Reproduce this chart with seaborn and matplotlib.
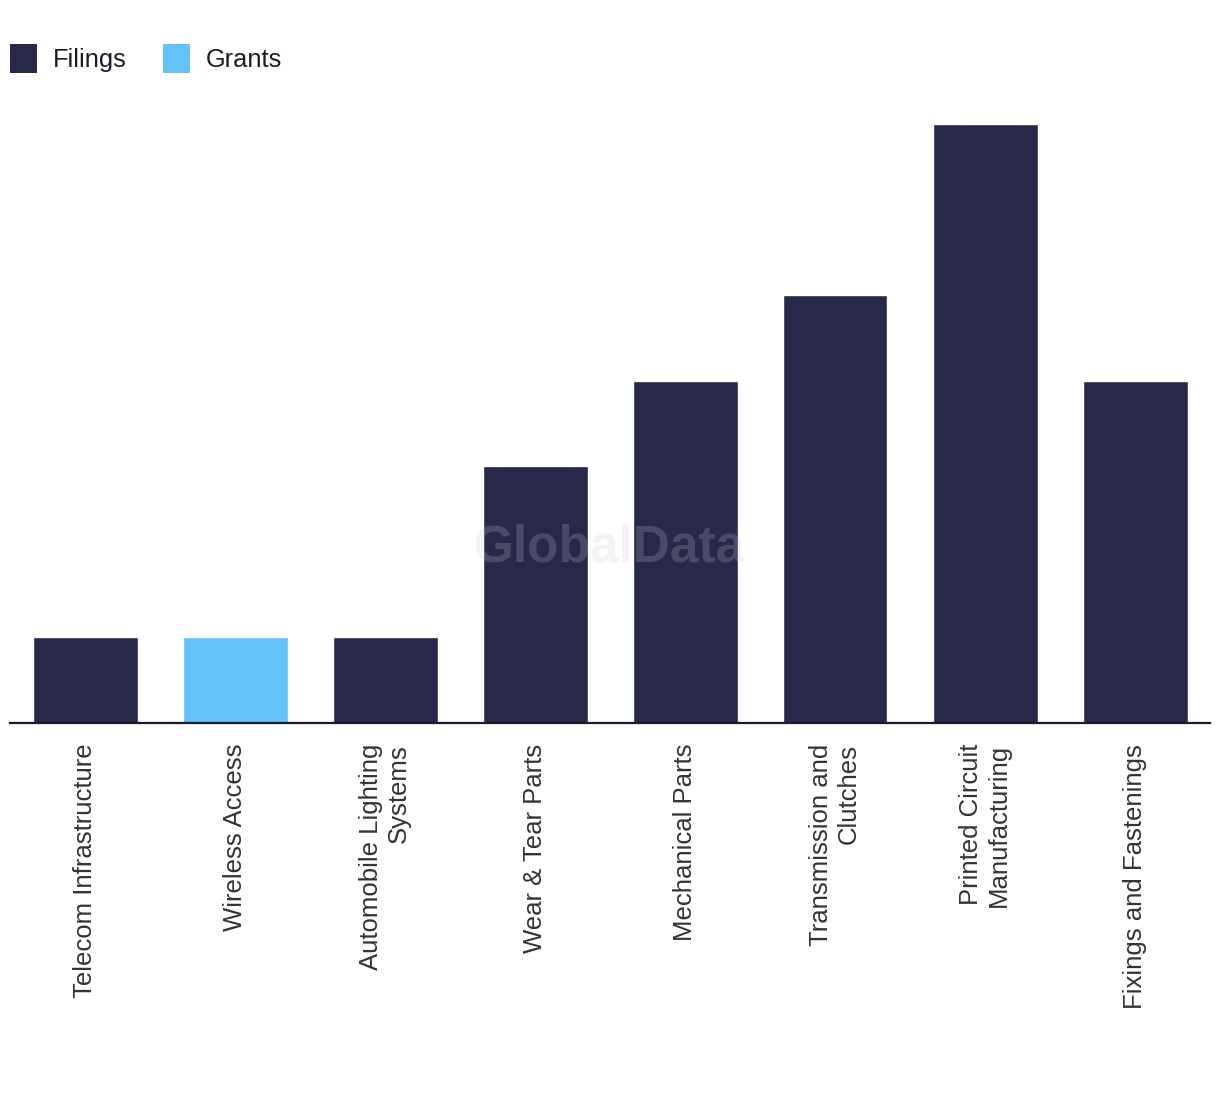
import matplotlib
matplotlib.use("Agg")
import matplotlib.pyplot as plt
import seaborn as sns
import pandas as pd
from matplotlib.patches import Patch

categories = ["Telecom Infrastructure", "Wireless Access", "Automobile Lighting\nSystems",
              "Wear & Tear Parts", "Mechanical Parts", "Transmission and\nClutches",
              "Printed Circuit\nManufacturing", "Fixings and Fastenings"]
values = [1, 1, 1, 3, 4, 5, 7, 4]
series = ["Filings", "Grants", "Filings", "Filings", "Filings", "Filings", "Filings", "Filings"]
legend_labels = ["Filings", "Grants"]
colors = {"Filings": "#27284a", "Grants": "#63c3f9"}

df = pd.DataFrame({"category": categories, "value": values, "series": series})

sns.set_theme(style="white")
plt.rcParams['font.family'] = ['Liberation Sans', 'DejaVu Sans']

fig = plt.figure(figsize=(12.2, 10.94), dpi=100)
ax = fig.add_axes([10/1220, (1094-723)/1094, 1200/1220, (723-100)/1094])

sns.barplot(data=df, x="category", y="value", hue="series", palette=colors,
            dodge=False, width=0.7, legend=False, ax=ax, saturation=1, order=categories)

ax.set_xlim(-0.5, len(categories) - 0.5)
ax.set_ylim(0, 7.28)
ax.set_xlabel("")
ax.set_ylabel("")
ax.set_yticks([])
for s in ["top", "right", "left"]:
    ax.spines[s].set_visible(False)
ax.spines["bottom"].set_color("#1a1a2e")
ax.spines["bottom"].set_linewidth(1.6)
ax.tick_params(axis="x", length=0, pad=15)
ax.set_xticks(range(len(categories)))
ax.set_xticklabels(categories, rotation=90, fontsize=18.5, color="#333333",
                   ha="center", va="top", multialignment="right")

fig.text(610/1220, 1 - 548/1094, "GlobalData", fontsize=37, fontweight="bold",
         color=(203/255, 203/255, 210/255), alpha=0.21, ha="center", va="center", zorder=10)

handles = [Patch(facecolor=colors[l], edgecolor="none", label=l) for l in legend_labels]
fig.legend(handles=handles, loc="upper left", bbox_to_anchor=(10/1220, 1 - 44/1094), ncol=2,
           frameon=False, fontsize=18.3, handlelength=1.08, handleheight=1.35,
           handletextpad=0.62, columnspacing=1.4, labelcolor="#1a1a2e",
           borderaxespad=0, borderpad=0)

fig.savefig("out.png", dpi=100, facecolor="white")
